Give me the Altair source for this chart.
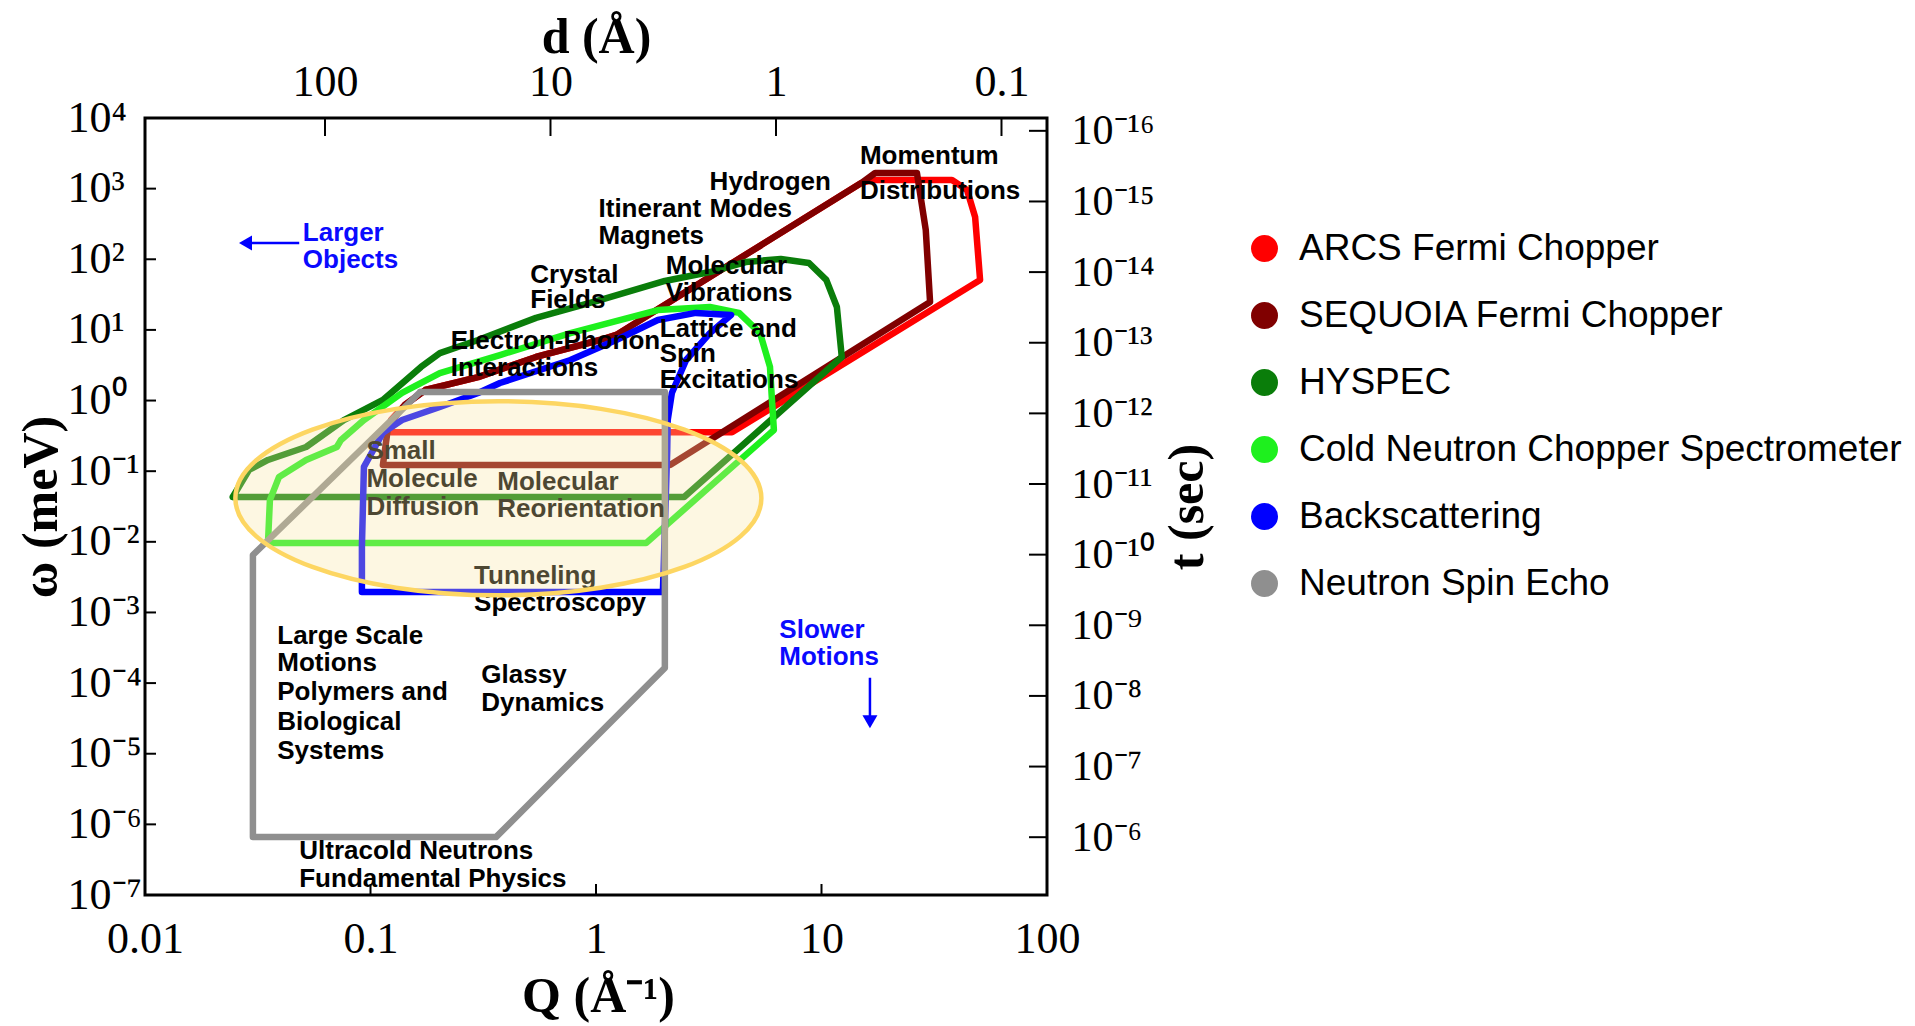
import json
import math
import altair as alt
import pandas as pd

# ---------------- data ----------------
instruments = ["ARCS Fermi Chopper", "SEQUOIA Fermi Chopper", "HYSPEC",
               "Cold Neutron Chopper Spectrometer", "Backscattering", "Neutron Spin Echo"]
colors = ["#ff0000", "#800000", "#0a7d0a", "#1ef01e", "#0000ff", "#8f8f8f"]

arcs_q = [0.1233, 4.01, 50.5, 48.0, 44.2, 37.9, 16.7, 15.0, 1.23, 1.04, 0.542, 0.30, 0.175, 0.142, 0.1233, 0.1233]
arcs_w = [0.355, 0.355, 51, 397, 957, 1325, 1325, 1200, 8.5, 7.2, 4.14, 2.15, 1.41, 0.865, 0.53, 0.355]

sequoia_q = [0.1135, 2.13, 30.3, 29.0, 26.5, 17.3, 15.0, 1.23, 1.04, 0.542, 0.30, 0.175, 0.142, 0.12, 0.1135]
sequoia_w = [0.1225, 0.1225, 24.8, 260, 1665, 1665, 1200, 8.5, 7.2, 4.14, 2.15, 1.41, 0.865, 0.45, 0.1225]

hyspec_q = [0.0245, 2.46, 12.3, 11.7, 10.5, 8.8, 6.6, 4.62, 3.2, 2.02, 1.04, 0.542, 0.30, 0.203,
            0.1675, 0.1135, 0.0762, 0.0518, 0.0351, 0.0289, 0.0245]
hyspec_w = [0.0431, 0.0431, 4.14, 21.1, 51, 88.5, 101, 91.5, 66, 49.3, 26.5, 14.8, 7.2, 4.7,
            2.99, 1.02, 0.53, 0.22, 0.144, 0.104, 0.0431]

cncs_q = [0.0351, 1.667, 6.15, 6.03, 5.91, 5.34, 4.31, 3.2, 1.88, 0.77, 0.375, 0.203, 0.138,
          0.0935, 0.074, 0.0709, 0.0518, 0.0393, 0.0358, 0.0351]
cncs_w = [0.0096, 0.0096, 0.383, 1.02, 2.99, 9.0, 17.4, 21.1, 19.1, 9.0, 4.4, 2.45, 1.28,
          0.53, 0.277, 0.22, 0.144, 0.083, 0.039, 0.0096]

back_q = [0.0916, 1.98, 2.07, 2.08, 2.17, 2.51, 3.2, 3.97, 2.77, 1.88, 1.23, 0.77, 0.375, 0.30,
          0.203, 0.138, 0.1135, 0.0935, 0.0916, 0.0916]
back_w = [0.00195, 0.00195, 0.2, 0.53, 1.28, 3.75, 9.0, 16.3, 17.4, 13.8, 7.2, 3.75, 1.77, 1.28,
          0.81, 0.53, 0.35, 0.115, 0.0085, 0.00195]

nse_q = [0.166, 2.02, 2.02, 0.36, 0.0301, 0.0301, 0.166]
nse_w = [1.32, 1.32, 1.64e-4, 6.6e-7, 6.6e-7, 6.5e-3, 1.32]

# tick values / labels
q_ticks = [0.01, 0.1, 1, 10, 100]
q_tick_labels = ["0.01", "0.1", "1", "10", "100"]
w_ticks = [1e-7, 1e-6, 1e-5, 1e-4, 1e-3, 1e-2, 1e-1, 1e0, 1e1, 1e2, 1e3, 1e4]
w_tick_labels = ["10⁻⁷", "10⁻⁶", "10⁻⁵", "10⁻⁴", "10⁻³", "10⁻²", "10⁻¹",
                 "10⁰", "10¹", "10²", "10³", "10⁴"]
d_ticks = [100, 10, 1, 0.1]
d_tick_labels = ["100", "10", "1", "0.1"]
t_ticks = [1e-16, 1e-15, 1e-14, 1e-13, 1e-12, 1e-11, 1e-10, 1e-9, 1e-8, 1e-7, 1e-6]
t_tick_labels = ["10⁻¹⁶", "10⁻¹⁵", "10⁻¹⁴", "10⁻¹³", "10⁻¹²", "10⁻¹¹", "10⁻¹⁰",
                 "10⁻⁹", "10⁻⁸", "10⁻⁷", "10⁻⁶"]

# annotations (one row per text line, anchored at left / vertical centre)
black_text = ["Crystal", "Fields", "Electron-Phonon", "Interactions", "Hydrogen", "Modes",
              "Itinerant", "Magnets", "Momentum", "Distributions", "Molecular", "Vibrations",
              "Lattice and", "Spin", "Excitations", "Small", "Molecule", "Diffusion",
              "Molecular", "Reorientation", "Tunneling", "Spectroscopy",
              "Large Scale", "Motions", "Polymers and", "Biological", "Systems",
              "Glassy", "Dynamics", "Ultracold Neutrons", "Fundamental Physics"]
black_q = [0.511, 0.511, 0.227, 0.227, 3.19, 3.19, 1.026, 1.026, 14.8, 14.8, 2.04, 2.04,
           1.915, 1.915, 1.915, 0.0959, 0.0959, 0.0959, 0.365, 0.365, 0.288, 0.288,
           0.0386, 0.0386, 0.0386, 0.0386, 0.0386, 0.31, 0.31, 0.0483, 0.0483]
black_w = [60.3, 26.1, 7.02, 2.92, 1242, 517, 517, 215, 2866, 940, 79.6, 33.2,
           10.45, 4.53, 1.96, 0.195, 0.0782, 0.0313, 0.0693, 0.0289, 3.24e-3, 1.35e-3,
           4.6e-4, 1.91e-4, 7.36e-5, 2.83e-5, 1.09e-5, 1.285e-4, 5.15e-5, 4.17e-7, 1.67e-7]

blue_text = ["Larger", "Objects", "Slower", "Motions"]
blue_q = [0.0501, 0.0501, 6.5, 6.5]
blue_w = [233, 97.2, 5.61e-4, 2.34e-4]

# arrows
left_arrow_q = [0.0483]
left_arrow_q2 = [0.0285]
left_arrow_w = [170]
left_head_q = [0.0279]
down_arrow_q = [16.4]
down_arrow_w = [1.19e-4]
down_arrow_w2 = [3.2e-5]
down_head_w = [2.83e-5]

# highlighted ellipse centre
ellipse_q = [0.369]
ellipse_w = [0.0413]

HBAR_MEV_S = 6.582e-13

# ---------------- build ----------------
W, H = 902, 777

rows = []
for name, qs, ws in zip(instruments,
                        [arcs_q, sequoia_q, hyspec_q, cncs_q, back_q, nse_q],
                        [arcs_w, sequoia_w, hyspec_w, cncs_w, back_w, nse_w]):
    for i, (q, w) in enumerate(zip(qs, ws)):
        rows.append({"inst": name, "q": q, "w": w, "i": i})
poly = pd.DataFrame(rows)

SERIF = "Liberation Serif"
SANS = "Liberation Sans"


def lab_expr(labels, offset, sign=1):
    return f"{json.dumps(labels, ensure_ascii=False)}[{sign}*round(log(datum.value)/LN10)+{offset}]"


x_axis = alt.Axis(orient="bottom", values=q_ticks, labelExpr=lab_expr(q_tick_labels, 2),
                  labelPadding=22, labelFlush=False, labelOverlap=False,
                  title="Q (Å⁻¹)", titleX=W / 2 + 2, titleY=101, titleBaseline="middle",
                  titleAlign="center", titleAngle=0)
y_axis = alt.Axis(orient="left", values=w_ticks, labelExpr=lab_expr(w_tick_labels, 7),
                  labelPadding=78, labelAlign="left", labelFlush=False, labelOverlap=False,
                  labelBaseline="middle",
                  title="ω (meV)", titleX=-104, titleY=H / 2, titleBaseline="middle",
                  titleAlign="center", titleAngle=270)

x_enc = alt.X("q:Q", scale=alt.Scale(type="log", domain=[0.01, 100], nice=False), axis=x_axis)
y_enc = alt.Y("w:Q", scale=alt.Scale(type="log", domain=[1e-7, 1e4], nice=False), axis=y_axis)

layers = []
for name, col in zip(instruments, colors):
    layers.append(
        alt.Chart(poly[poly["inst"] == name]).mark_line(
            color=col, strokeWidth=6.5, strokeJoin="round", strokeCap="round"
        ).encode(x=x_enc, y=y_enc, order="i:Q")
    )

# legend carrier (invisible points)
layers.append(
    alt.Chart(poly).mark_circle(size=0, opacity=0).encode(
        x=x_enc, y=y_enc,
        color=alt.Color("inst:N", scale=alt.Scale(domain=instruments, range=colors),
                        legend=alt.Legend(title=None, orient="none", legendX=1101, legendY=112,
                                          symbolType="circle", symbolSize=729, symbolOpacity=1,
                                          symbolStrokeWidth=0, labelFont=SANS, labelFontSize=37,
                                          labelColor="black", rowPadding=29, labelOffset=16,
                                          padding=0, labelLimit=800))
    )
)

black_df = pd.DataFrame({"text": black_text, "q": black_q, "w": black_w})
blue_df = pd.DataFrame({"text": blue_text, "q": blue_q, "w": blue_w})
layers.append(
    alt.Chart(black_df).mark_text(align="left", baseline="middle", font=SANS, fontWeight="bold",
                                  fontSize=26, color="black").encode(x=x_enc, y=y_enc, text="text:N")
)
layers.append(
    alt.Chart(blue_df).mark_text(align="left", baseline="middle", font=SANS, fontWeight="bold",
                                 fontSize=26, color="#0a0aff").encode(x=x_enc, y=y_enc, text="text:N")
)

# ellipse overlay
ELLIPSE = "M -1 0 A 1 0.369 0 1 1 1 0 A 1 0.369 0 1 1 -1 0 Z"
layers.append(
    alt.Chart(pd.DataFrame({"q": ellipse_q, "w": ellipse_w})).mark_point(
        shape=ELLIPSE, size=526 ** 2, filled=True, fill="#f8e5a0", fillOpacity=0.31,
        stroke="#fdd662", strokeWidth=4.5, opacity=1
    ).encode(x=x_enc, y=y_enc)
)

# arrows
layers.append(
    alt.Chart(pd.DataFrame({"q": left_arrow_q, "q2": left_arrow_q2, "w": left_arrow_w}))
    .mark_rule(color="#0000ff", strokeWidth=2.5).encode(x=x_enc, x2="q2:Q", y=y_enc)
)
layers.append(
    alt.Chart(pd.DataFrame({"q": left_head_q, "w": left_arrow_w}))
    .mark_point(shape="triangle-left", filled=True, size=225, color="#0000ff", opacity=1)
    .encode(x=x_enc, y=y_enc)
)
layers.append(
    alt.Chart(pd.DataFrame({"q": down_arrow_q, "w": down_arrow_w, "w2": down_arrow_w2}))
    .mark_rule(color="#0000ff", strokeWidth=2.5).encode(x=x_enc, y=y_enc, y2="w2:Q")
)
layers.append(
    alt.Chart(pd.DataFrame({"q": down_arrow_q, "w": down_head_w}))
    .mark_point(shape="triangle-down", filled=True, size=225, color="#0000ff", opacity=1)
    .encode(x=x_enc, y=y_enc)
)

# inward ticks (bottom / left)
layers.append(
    alt.Chart(pd.DataFrame({"q": q_ticks})).mark_rule(color="black", strokeWidth=2)
    .encode(x=x_enc, y=alt.value(H), y2=alt.value(H - 11))
)
layers.append(
    alt.Chart(pd.DataFrame({"w": w_ticks})).mark_rule(color="black", strokeWidth=2)
    .encode(y=y_enc, x=alt.value(0), x2=alt.value(11))
)

inner = alt.layer(*layers)

# right axis: time t = hbar / omega
t_layer = alt.Chart(pd.DataFrame({"t": t_ticks})).mark_rule(color="black", strokeWidth=2).encode(
    y=alt.Y("t:Q",
            scale=alt.Scale(type="log", domain=[HBAR_MEV_S / 1e4, HBAR_MEV_S / 1e-7],
                            reverse=True, nice=False),
            axis=alt.Axis(orient="right", values=t_ticks, labelExpr=lab_expr(t_tick_labels, 16),
                          labelPadding=24, labelFontSize=42, labelFlush=False, labelOverlap=False,
                          labelBaseline="middle",
                          title="t (sec)", titleX=140, titleY=H / 2, titleAngle=270,
                          titleBaseline="middle", titleAlign="center")),
    x=alt.value(W), x2=alt.value(W - 18)
)

# top axis: d = 2 pi / Q
d_layer = alt.Chart(pd.DataFrame({"d": d_ticks})).mark_rule(color="black", strokeWidth=2).encode(
    x=alt.X("d:Q",
            scale=alt.Scale(type="log", domain=[2 * math.pi / 100, 2 * math.pi / 0.01],
                            reverse=True, nice=False),
            axis=alt.Axis(orient="top", values=d_ticks, labelExpr=lab_expr(d_tick_labels, 2, -1),
                          labelPadding=14, labelFlush=False, labelOverlap=False,
                          title="d (Å)", titleX=W / 2, titleY=-81, titleAngle=0,
                          titleBaseline="middle", titleAlign="center")),
    y=alt.value(0), y2=alt.value(18)
)

chart = alt.layer(inner, t_layer, d_layer).resolve_scale(
    x="independent", y="independent"
).properties(
    width=W, height=H,
    padding={"left": 137, "top": 110, "right": 860, "bottom": 128},
    autosize=alt.AutoSizeParams(type="none"),
    background="white",
).configure_view(
    stroke="black", strokeWidth=3
).configure_axis(
    labelFont=SERIF, titleFont=SERIF, labelColor="black", titleColor="black",
    labelFontSize=44, titleFontSize=50, titleFontWeight="bold",
    grid=False, ticks=False, domain=False
)

chart.save("out.html", embed_options={"renderer": "svg", "actions": False})
